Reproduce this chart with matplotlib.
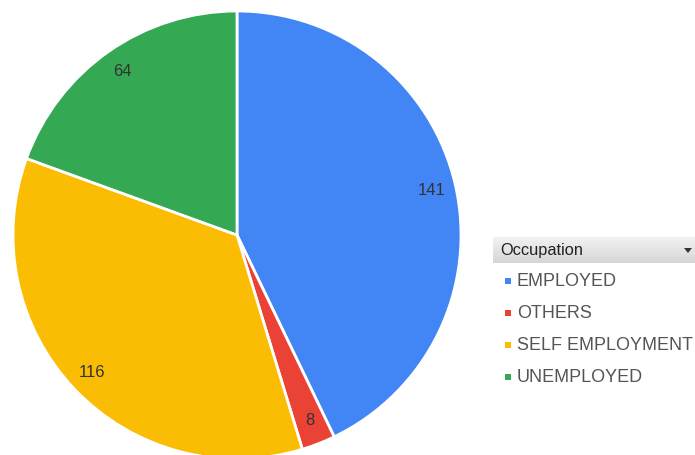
import matplotlib
matplotlib.use("Agg")
import matplotlib.pyplot as plt
import numpy as np
from matplotlib.patches import Rectangle, Polygon

plt.rcParams['font.family'] = ['Liberation Sans', 'DejaVu Sans']

categories = ["EMPLOYED", "OTHERS", "SELF EMPLOYMENT", "UNEMPLOYED"]
values = [141, 8, 116, 64]
colors = ["#4285F4", "#EA4335", "#FBBC04", "#34A853"]
legend_title = "Occupation"

W, H = 695, 455
fig = plt.figure(figsize=(W / 100, H / 100), dpi=100)
fig.patch.set_facecolor("white")

# pie placed in pixel units: centre (237, 235) from top-left, radius 224
cx, cy, r = 237, 235, 224
ax = fig.add_axes([(cx - r) / W, (H - cy - r) / H, 2 * r / W, 2 * r / H])
wedges, texts = ax.pie(values, colors=colors, startangle=90, counterclock=False,
                       labels=[str(v) for v in values], labeldistance=0.89,
                       wedgeprops=dict(edgecolor="white", linewidth=2),
                       textprops=dict(fontsize=12, color="#333333"))
for t in texts:
    t.set_ha("center")
    t.set_va("center")
ax.set_xlim(-1, 1)
ax.set_ylim(-1, 1)
ax.set_aspect("equal")
ax.axis("off")

# legend header bar with gradient
def fx(x):
    return x / W

def fy(y):
    return 1 - y / H

x0, x1, y0, y1 = 493, 695, 237, 263
grad = np.linspace(0.95, 0.84, 50).reshape(-1, 1)
hax = fig.add_axes([fx(x0), fy(y1), (x1 - x0) / W, (y1 - y0) / H])
hax.imshow(np.dstack([grad, grad, grad]), aspect="auto", extent=[0, 1, 0, 1])
hax.axis("off")
fig.text(fx(500), fy(251), legend_title, fontsize=11.8, color="#222222",
         ha="left", va="center")
fig.patches.append(Polygon([[fx(684), fy(248)], [fx(692), fy(248)], [fx(688), fy(253)]],
                           closed=True, transform=fig.transFigure,
                           facecolor="#333333", edgecolor="none"))

# legend entries
for i, (cat, col) in enumerate(zip(categories, colors)):
    yc = 281 + 32 * i
    fig.patches.append(Rectangle((fx(505), fy(yc + 3)), 6 / W, 6 / H,
                                 transform=fig.transFigure, facecolor=col,
                                 edgecolor="none"))
    fig.text(fx(517), fy(yc), cat, fontsize=13, color="#555555",
             ha="left", va="center")

fig.savefig("out.png", dpi=100)
